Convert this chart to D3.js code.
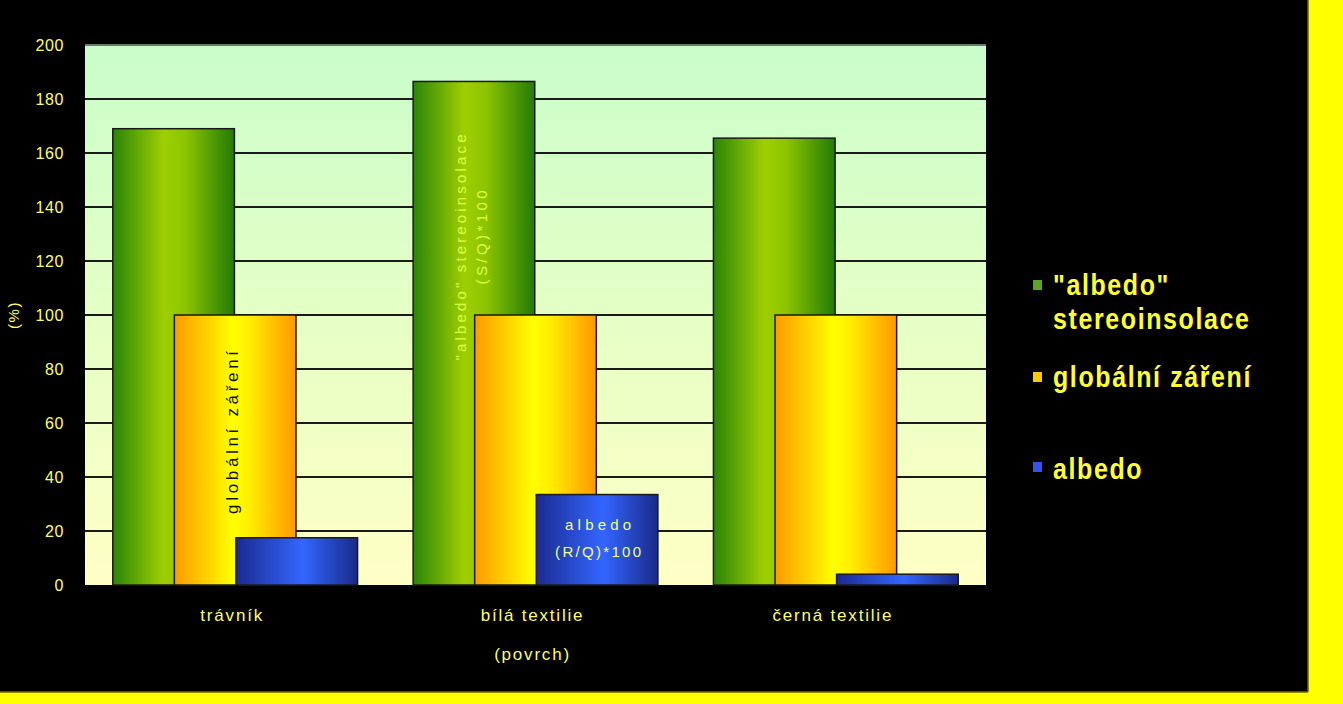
<!DOCTYPE html>
<html>
<head>
<meta charset="utf-8">
<script src="https://cdn.jsdelivr.net/npm/d3@7"></script>
<style>
  html, body { margin: 0; padding: 0; background: #000; }
  svg { display: block; }
</style>
</head>
<body>
<svg id="chart" width="1343" height="704"></svg>
<script>
// ---- data ----
const categories = ["trávník", "bílá textilie", "černá textilie"];
const seriesNames = ["\"albedo\" stereoinsolace", "globální záření", "albedo"];
const stereoinsolace = [169, 186.5, 165.5];
const globalni = [100, 100, 100];
const albedo = [17.5, 33.5, 4];
const yTicks = [0, 20, 40, 60, 80, 100, 120, 140, 160, 180, 200];
const xAxisTitle = "(povrch)";
const yAxisTitle = "(%)";
const legendLines = [["\"albedo\"", "stereoinsolace"], ["globální záření"], ["albedo"]];

const seriesValues = [stereoinsolace, globalni, albedo];

const svg = d3.select("#chart");
const W = 1343, H = 704;

// frame: yellow border right and bottom
svg.append("rect").attr("x", 0).attr("y", 0).attr("width", W).attr("height", H).attr("fill", "#ffff00");
svg.append("rect").attr("x", 0).attr("y", 0).attr("width", 1308).attr("height", 692).attr("fill", "#000");
svg.append("line").attr("x1", 1308).attr("x2", 1308).attr("y1", 0).attr("y2", 692).attr("stroke", "#6b6b00").attr("stroke-width", 1.5);
svg.append("line").attr("x1", 0).attr("x2", 1308).attr("y1", 692).attr("y2", 692).attr("stroke", "#6b6b00").attr("stroke-width", 1.5);

const plot = { left: 85, right: 986, top: 45, bottom: 585 };

const defs = svg.append("defs");
const bg = defs.append("linearGradient").attr("id", "bg").attr("x1", 0).attr("y1", 0).attr("x2", 0).attr("y2", 1);
bg.append("stop").attr("offset", "0%").attr("stop-color", "#c9fdca");
bg.append("stop").attr("offset", "45%").attr("stop-color", "#e2ffc6");
bg.append("stop").attr("offset", "100%").attr("stop-color", "#ffffc4");

function hgrad(id, stops) {
  const g = defs.append("linearGradient").attr("id", id).attr("x1", 0).attr("y1", 0).attr("x2", 1).attr("y2", 0);
  stops.forEach(s => g.append("stop").attr("offset", s[0]).attr("stop-color", s[1]));
}
hgrad("g0", [["0%", "#2a8508"], ["42%", "#9fcf00"], ["60%", "#8cc400"], ["100%", "#237a05"]]);
hgrad("g1", [["0%", "#ff9a00"], ["48%", "#ffff00"], ["62%", "#ffee00"], ["100%", "#ff9800"]]);
hgrad("g2", [["0%", "#1c2a90"], ["55%", "#3366ff"], ["100%", "#192a88"]]);

svg.append("rect")
  .attr("x", plot.left).attr("y", plot.top)
  .attr("width", plot.right - plot.left).attr("height", plot.bottom - plot.top)
  .attr("fill", "url(#bg)");
svg.append("line").attr("x1", plot.left).attr("x2", plot.right).attr("y1", plot.top).attr("y2", plot.top)
  .attr("stroke", "#6a7a6a").attr("stroke-width", 2);

const y = d3.scaleLinear().domain([0, 200]).range([plot.bottom, plot.top]);
const x0 = d3.scaleBand().domain(categories).range([plot.left, plot.right]).paddingInner(0).paddingOuter(0);
const bw = x0.bandwidth();
const barW = bw * 0.405;
const x1 = d3.scalePoint().domain(d3.range(seriesNames.length)).range([-bw * 0.205, bw * 0.205]);

// gridlines
const yAxis = d3.axisLeft(y).tickValues(yTicks).tickSize(0).tickPadding(0);
const gy = svg.append("g").attr("transform", `translate(${plot.left},0)`);
gy.selectAll("line.grid").data(yTicks.filter(t => t > 0 && t < 200)).enter().append("line")
  .attr("class", "grid")
  .attr("x1", 0).attr("x2", plot.right - plot.left)
  .attr("y1", d => y(d)).attr("y2", d => y(d))
  .attr("stroke", "#1a1a1a").attr("stroke-width", 2);

// y-axis labels
const axisG = svg.append("g").attr("transform", `translate(64,0)`).call(yAxis);
axisG.select(".domain").remove();
axisG.selectAll("text")
  .attr("x", 0)
  .attr("fill", "#ffff66")
  .attr("font-family", "Liberation Sans, Arial, sans-serif")
  .attr("font-size", 16)
  .attr("letter-spacing", 0.6)
  .attr("text-anchor", "end");

// bars
seriesValues.forEach((vals, si) => {
  svg.append("g").selectAll("rect").data(categories).enter().append("rect")
    .attr("x", (c) => x0(c) + bw / 2 + x1(si) - barW / 2)
    .attr("y", (c, i) => y(vals[i]))
    .attr("width", barW)
    .attr("height", (c, i) => y(0) - y(vals[i]))
    .attr("fill", `url(#g${si})`)
    .attr("stroke", "#1a1a1a")
    .attr("stroke-width", 1.5);
});

const smallFont = "Liberation Sans, Arial, sans-serif";

// in-bar labels
const c0 = x0(categories[0]) + bw / 2 + x1(1);
svg.append("text")
  .attr("transform", `translate(${c0 + 3},${y(56.5)}) rotate(-90)`)
  .attr("text-anchor", "middle")
  .attr("font-family", smallFont).attr("font-size", 17)
  .attr("textLength", 163).attr("lengthAdjust", "spacing")
  .attr("fill", "#111")
  .text(seriesNames[1]);

const c1 = x0(categories[1]) + bw / 2 + x1(0);
const gl = svg.append("text")
  .attr("transform", `translate(${c1 - 8},${y(125)}) rotate(-90)`)
  .attr("text-anchor", "middle")
  .attr("font-family", smallFont).attr("font-size", 15)
  .attr("fill", "#dcff45");
gl.append("tspan").attr("x", 0).attr("dy", 0).attr("textLength", 226).attr("lengthAdjust", "spacing").text(seriesNames[0]);
gl.append("tspan").attr("x", 10).attr("dy", 21).attr("textLength", 94).attr("lengthAdjust", "spacing").text("(S/Q)*100");

const c2 = x0(categories[1]) + bw / 2 + x1(2);
const bl = svg.append("text")
  .attr("transform", `translate(${c2 + 1},${y(20.5)})`)
  .attr("text-anchor", "middle")
  .attr("font-family", smallFont).attr("font-size", 15)
  .attr("fill", "#f4ff88");
bl.append("tspan").attr("x", 0).attr("dy", 0).attr("textLength", 66).attr("lengthAdjust", "spacing").text("albedo");
bl.append("tspan").attr("x", 0).attr("dy", 27).attr("textLength", 86).attr("lengthAdjust", "spacing").text("(R/Q)*100");

// category labels
svg.append("g").selectAll("text").data(categories).enter().append("text")
  .attr("x", c => x0(c) + bw / 2 - 3)
  .attr("y", 621)
  .attr("text-anchor", "middle")
  .attr("font-family", smallFont).attr("font-size", 17)
  .attr("letter-spacing", 1.8)
  .attr("fill", "#ffff66")
  .text(c => c);

svg.append("text")
  .attr("x", x0(categories[1]) + bw / 2 - 3).attr("y", 660)
  .attr("text-anchor", "middle")
  .attr("font-family", smallFont).attr("font-size", 17)
  .attr("letter-spacing", 1.8)
  .attr("fill", "#ffff66")
  .text(xAxisTitle);

svg.append("text")
  .attr("transform", `translate(19,${y(100)}) rotate(-90)`)
  .attr("text-anchor", "middle")
  .attr("font-family", smallFont).attr("font-size", 15)
  .attr("letter-spacing", 1.5)
  .attr("fill", "#ffff66")
  .text(yAxisTitle);

// legend
const legendColors = ["#5aa61e", "#ffc800", "#3355ee"];
const legendTop = [280, 372, 462];
const legendBase = [[295, 329], [387], [479]];
legendLines.forEach((lines, i) => {
  svg.append("rect").attr("x", 1033).attr("y", legendTop[i]).attr("width", 9).attr("height", 10)
    .attr("fill", legendColors[i]);
  lines.forEach((ln, j) => {
    svg.append("text")
      .attr("transform", `translate(1053,${legendBase[i][j]}) scale(1,1.15)`)
      .attr("font-family", "Liberation Sans, Arial, sans-serif")
      .attr("font-weight", "bold")
      .attr("font-size", 25)
      .attr("letter-spacing", 1.6)
      .attr("fill", "#ffff33")
      .text(ln);
  });
});
</script>
</body>
</html>
